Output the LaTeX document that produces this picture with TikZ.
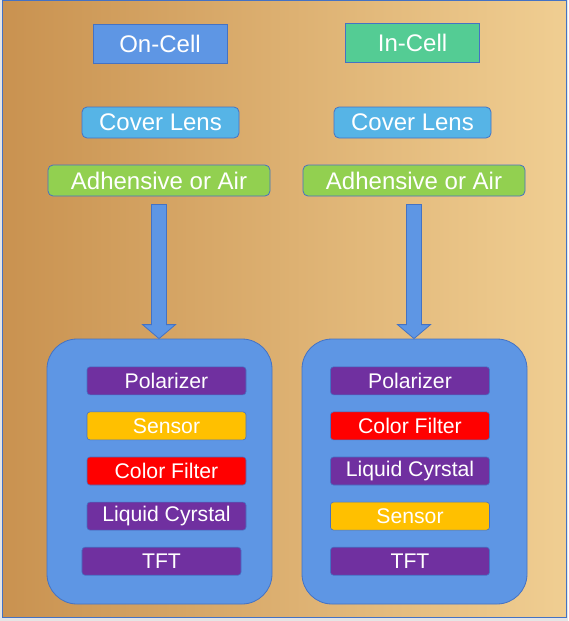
\documentclass[tikz,border=0pt]{standalone}
\usepackage{fontspec}
\setmainfont{Liberation Sans}
\usepackage{tikz}
\usetikzlibrary{matrix,calc}

\definecolor{edgeblue}{RGB}{68,114,196}
\definecolor{boxblue}{RGB}{94,150,228}
\definecolor{lensblue}{RGB}{86,180,230}
\definecolor{incellgreen}{RGB}{84,204,148}
\definecolor{glue}{RGB}{146,208,80}
\definecolor{purplelyr}{RGB}{112,48,160}
\definecolor{yellowlyr}{RGB}{255,192,0}
\definecolor{redlyr}{RGB}{255,0,0}
\definecolor{bgleft}{RGB}{201,146,80}
\definecolor{bgright}{RGB}{240,206,146}

\newcommand{\titlefont}{\fontsize{24}{24}\selectfont}
\newcommand{\layerfont}{\fontsize{21.2}{21}\selectfont}

% block arrow from one node down onto another
\newcommand{\stackarrow}[2]{%
  \draw[edgeblue, line width=0.8pt, fill=boxblue]
    let \p1=($(#1)+(0,8)$), \p2=(#2) in
    (\x1-7.5pt,\y1) -- (\x1+7.5pt,\y1) -- (\x1+7.5pt,\y2+14pt)
    -- (\x1+16.5pt,\y2+14pt) -- (\x1,\y2) -- (\x1-16.5pt,\y2+14pt)
    -- (\x1-7.5pt,\y2+14pt) -- cycle;}

\tikzset{
  title/.style={draw=edgeblue, line width=0.8pt, text=white, font=\titlefont,
    minimum width=134, minimum height=39, inner sep=0},
  lens/.style={draw=edgeblue, line width=0.8pt, fill=lensblue, text=white,
    font=\titlefont, rounded corners=5, minimum width=157, minimum height=31, inner sep=0},
  glue/.style={draw=edgeblue, line width=0.8pt, fill=glue, text=white,
    font=\titlefont, rounded corners=5, minimum width=222, minimum height=31, inner sep=0},
  stack/.style={draw=edgeblue, line width=0.8pt, fill=boxblue,
    rounded corners=30, minimum width=225, minimum height=265},
  layer/.style={draw=edgeblue, line width=0.6pt, text=white, font=\layerfont,
    rounded corners=3, minimum width=159, minimum height=28, inner sep=0},
  purple/.style={layer, fill=purplelyr},
  yellow/.style={layer, fill=yellowlyr},
  red/.style={layer, fill=redlyr}
}

\begin{document}
\begin{tikzpicture}[x=1pt, y=-1pt]

    \useasboundingbox (0,0) rectangle (568,621);
    \fill[black!10] (0,0) rectangle (568,621);
    \shade[left color=bgleft, right color=bgright] (2,0.5) rectangle (566.5,617);
    \draw[edgeblue, line width=0.8pt] (2,0.5) rectangle (566.5,617);

    % left column
    \node[title, fill=boxblue] (onCell) at (160,43.5) {On-Cell};
    \node[lens] (lensL) at (160.5,122.5) {Cover Lens};
    \node[glue] (glueL) at (159,180.5) {Adhensive or Air};
    \node[stack] (stackL) at (159.5,471.5) {};
    \matrix (m) [matrix of nodes, row sep=16.5pt,
        nodes={layer}] at (164,471) {
            |[purple]| Polarizer \\
            |[yellow]| Sensor \\
            |[red]| Color Filter \\
            |[purple]| Liquid Cyrstal \\
            |[purple, xshift=-5pt]| TFT \\
    };
    \stackarrow{glueL.south}{stackL.north}

    % right column
    \node[title, fill=incellgreen] (inCell) at (412.5,43) {In-Cell};
    \node[lens] (lensR) at (412.5,122.5) {Cover Lens};
    \node[glue] (glueR) at (414,180.5) {Adhensive or Air};
    \node[stack] (stackR) at (414.5,471.5) {};
    \matrix (n) [matrix of nodes, row sep=16.5pt,
        nodes={layer}] at (410,471) {
            |[purple]| Polarizer \\
            |[red]| Color Filter \\
            |[purple]| Liquid Cyrstal \\
            |[yellow]| Sensor \\
            |[purple]| TFT \\
    };
    \stackarrow{glueR.south}{stackR.north}

\end{tikzpicture}
\end{document}
